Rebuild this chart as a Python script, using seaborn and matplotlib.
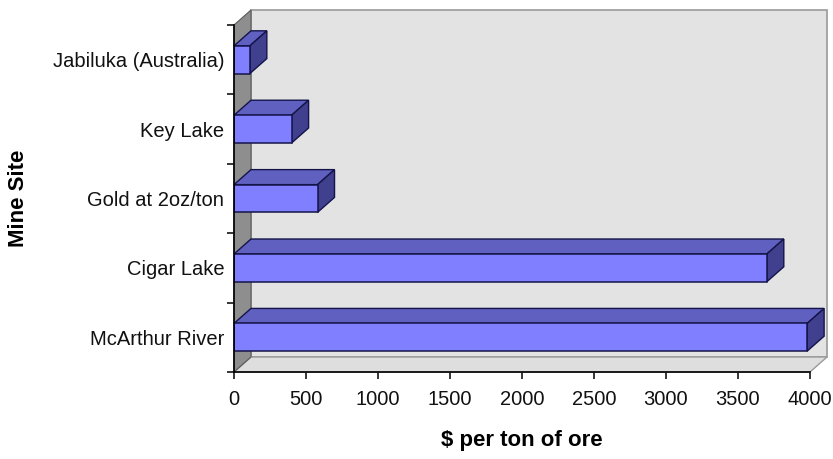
import matplotlib
matplotlib.use("Agg")
import matplotlib.pyplot as plt
from matplotlib.patches import Polygon
from matplotlib.transforms import IdentityTransform
import seaborn as sns
import pandas as pd

# Ore value per mine site
sites = ["Jabiluka (Australia)", "Key Lake", "Gold at 2oz/ton", "Cigar Lake", "McArthur River"]
values = [110, 400, 580, 3700, 3980]
x_ticks = [0, 500, 1000, 1500, 2000, 2500, 3000, 3500, 4000]

df = pd.DataFrame({"site": sites, "value": values})

sns.set_theme(style="white")
plt.rcParams["font.family"] = ["Liberation Sans", "DejaVu Sans"]

W, H = 833, 459
fig = plt.figure(figsize=(W / 100, H / 100), dpi=100)
fig.patch.set_facecolor("white")

# front plane of the 3-D box, in pixels
left_px, right_px, top_px, bottom_px = 234, 810, 25, 372
ax = fig.add_axes([left_px / W, 1 - bottom_px / H,
                   (right_px - left_px) / W, (bottom_px - top_px) / H])
ax.set_facecolor("none")

FRONT = "#7f7fff"
TOP = "#6060c0"
SIDE = "#40408e"
EDGE = "#14144a"

sns.barplot(data=df, x="value", y="site", orient="h", color=FRONT, saturation=1,
            width=0.4, edgecolor=EDGE, linewidth=1.1, ax=ax, zorder=5)

ax.set_xlim(0, 4000)
ax.set_ylim(len(sites) - 0.5, -0.5)
ax.set_xticks(x_ticks)
ax.set_xticklabels([str(t) for t in x_ticks])

# depth of the 3-D extrusion, in pixels
DX, DY = 17, 15
ident = IdentityTransform()


def disp(x, y, back=False):
    px, py = ax.transData.transform((x, y))
    if back:
        px += DX
        py += DY
    return (px, py)


def face(points, color, z, edge=EDGE, lw=1.0):
    ax.add_patch(Polygon(points, closed=True, facecolor=color, edgecolor=edge,
                         linewidth=lw, transform=ident, clip_on=False, zorder=z))


y_top, y_bot = -0.5, len(sites) - 0.5
# back wall
face([disp(0, y_top, True), disp(4000, y_top, True),
      disp(4000, y_bot, True), disp(0, y_bot, True)], "#e3e3e3", 0, edge="#9a9a9a", lw=1.2)
# floor
face([disp(0, y_bot), disp(4000, y_bot), disp(4000, y_bot, True), disp(0, y_bot, True)],
     "#dedede", 1, edge="#9a9a9a", lw=1.0)
# left side wall
face([disp(0, y_top), disp(0, y_top, True), disp(0, y_bot, True), disp(0, y_bot)],
     "#8e8e8e", 1, edge="#5a5a5a", lw=0.8)

# top and side faces of each bar, built from the drawn bar rectangles
for bar in ax.patches[:len(sites)]:
    x0, y0 = bar.get_x(), bar.get_y()
    w, h = bar.get_width(), bar.get_height()
    ya, yb = y0, y0 + h          # ya is the upper edge (inverted y axis)
    x1 = x0 + w
    face([disp(x0, ya), disp(x1, ya), disp(x1, ya, True), disp(x0, ya, True)], TOP, 4)
    face([disp(x1, ya), disp(x1, yb), disp(x1, yb, True), disp(x1, ya, True)], SIDE, 4)

# axes styling
for s in ["top", "right"]:
    ax.spines[s].set_visible(False)
for s in ["left", "bottom"]:
    ax.spines[s].set_color("black")
    ax.spines[s].set_linewidth(1.2)
    ax.spines[s].set_zorder(6)

ax.set_yticks([i - 0.5 for i in range(len(sites) + 1)], minor=True)
ax.tick_params(axis="y", which="major", length=0, pad=7, labelsize=14.5, labelcolor="#111111")
ax.tick_params(axis="y", which="minor", length=5, width=1.1, color="black", direction="out", left=True)
ax.tick_params(axis="x", which="major", length=5, width=1.1, color="black", direction="out",
               bottom=True, pad=8, labelsize=14.5, labelcolor="#111111")

ax.set_xlabel("$ per ton of ore", fontsize=16, fontweight="bold", color="black")
ax.set_ylabel("Mine Site", fontsize=16, fontweight="bold", color="black")
ax.xaxis.set_label_coords(0.5, (bottom_px - 430) / (bottom_px - top_px))
ax.yaxis.set_label_coords((29 - left_px) / (right_px - left_px), 0.5)

fig.savefig("out.png", dpi=100)
